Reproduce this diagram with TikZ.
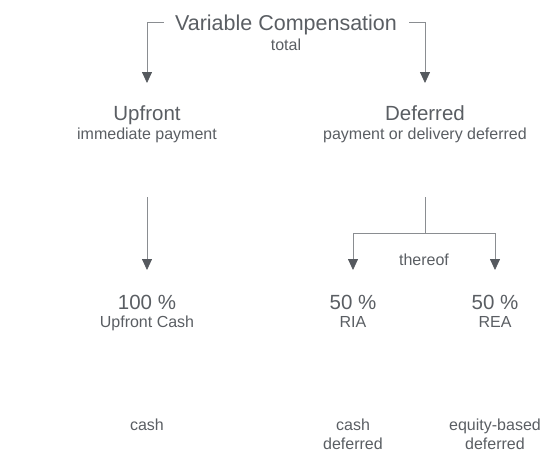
\documentclass[tikz,border=0pt]{standalone}
\usepackage{fontspec}
\setmainfont{Liberation Sans}
\usetikzlibrary{arrows.meta}
\usetikzlibrary{positioning}

\definecolor{txtgray}{HTML}{5A5E63}
\definecolor{linegray}{HTML}{8A8D91}
\definecolor{tipgray}{HTML}{55595E}

\begin{document}
\begin{tikzpicture}[x=1pt, y=-1pt,
    every node/.style={inner sep=0pt, anchor=base, text=txtgray},
    titletxt/.style={font=\fontsize{21.5}{25}\selectfont},
    bigtxt/.style={font=\fontsize{20.5}{24}\selectfont},
    smalltxt/.style={font=\fontsize{16}{19}\selectfont},
    line/.style={draw=linegray, line width=0.8pt},
    arr/.style={line, -{Triangle[width=10pt, length=11pt, color=tipgray]}}]
    \useasboundingbox (0,0) rectangle (544,451);

    % Titulo
    \node[titletxt] (title) at (286,30) {Variable Compensation};
    \node[smalltxt] (titlesub) at (286,50.5) {total};

    % Nivel 1
    \node[bigtxt] (upfront) at (147,120.5) {Upfront};
    \node[smalltxt] (upsub) at (147,139.3) {immediate payment};
    \node[bigtxt] (deferred) at (425,120.5) {Deferred};
    \node[smalltxt] (defsub) at (425,139.3) {payment or delivery deferred};

    % Nivel 2
    \node[bigtxt] (pcta) at (147,309) {100 \%};
    \node[smalltxt] (pctasub) at (147,327.3) {Upfront Cash};
    \node[bigtxt] (ria) at (353,309) {50 \%};
    \node[smalltxt] (riasub) at (353,327.3) {RIA};
    \node[bigtxt] (rea) at (495,309) {50 \%};
    \node[smalltxt] (reasub) at (495,327.3) {REA};
    \node[smalltxt] (thereof) at (424,265) {thereof};

    % Tipo de pago
    \node[smalltxt] (cash) at (147,430) {cash};
    \node[smalltxt] (riacash) at (353,430) {cash};
    \node[smalltxt] (riadef) at (353,449) {deferred};
    \node[smalltxt] (reaeq) at (495,430) {equity-based};
    \node[smalltxt] (readef) at (495,449) {deferred};

    % Flechas
    \draw[arr] ([xshift=-11pt,yshift=2.5pt]title.west) -| ([yshift=37.5pt]upfront.base);
    \draw[arr] ([xshift=12pt,yshift=2.5pt]title.east) -| ([yshift=37.5pt]deferred.base);
    \draw[arr] ([yshift=-57.7pt]upsub.base) -- ([yshift=39pt]pcta.base);

    \coordinate (split) at ([yshift=-94pt]defsub.base);
    \draw[line] ([yshift=-57.7pt]defsub.base) -- (split);
    \draw[arr] (split) -| ([yshift=39pt]ria.base);
    \draw[arr] (split) -| ([yshift=39pt]rea.base);

\end{tikzpicture}
\end{document}
